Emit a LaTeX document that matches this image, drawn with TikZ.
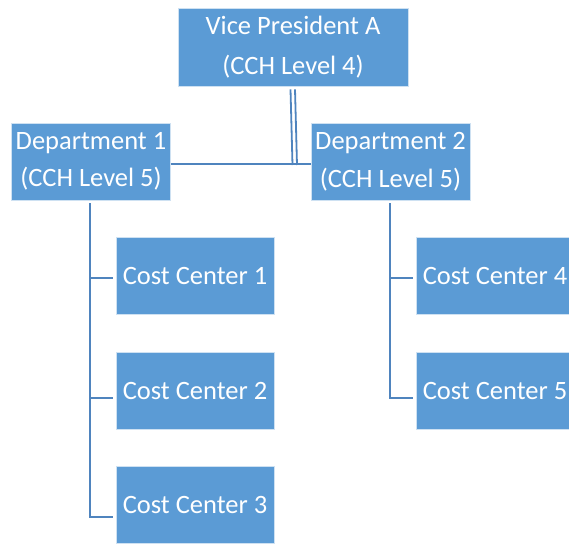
\documentclass[tikz,border=0pt]{standalone}
\usepackage{fontspec}
\setmainfont{Carlito}
\definecolor{boxblue}{HTML}{5B9BD5}
\definecolor{lineblue}{HTML}{4F84BE}
\begin{document}
\begin{tikzpicture}[x=1pt,y=-1pt,
  box/.style={fill=boxblue, draw=white!70!boxblue, line width=0.6pt, inner sep=0pt,
    text=white, font=\fontsize{26.5}{40}\selectfont, align=center},
  vpbox/.style={box, minimum width=230pt, minimum height=78pt},
  deptbox/.style={box, minimum width=159pt, minimum height=77pt, font=\fontsize{26.5}{37.5}\selectfont},
  ccbox/.style={box, minimum width=158pt, minimum height=77pt},
  conn/.style={draw=lineblue, line width=2.8pt},
  thin/.style={draw=lineblue, line width=1.8pt}]
\useasboundingbox (0,0) rectangle (569,543);
\clip (0,0) rectangle (569,543);
\node[vpbox] (vp) at (293,47) {Vice President A\\(CCH Level 4)};
\node[deptbox] (d1) at (91,161.5) {Department 1\\(CCH Level 5)};
\node[deptbox] (d2) at (390.5,161.5) {Department 2\\(CCH Level 5)};
\node[ccbox] (c1) at (195,275.5) {Cost Center 1};
\node[ccbox] (c2) at (195,390.5) {Cost Center 2};
\node[ccbox] (c3) at (195,504.5) {Cost Center 3};
\node[ccbox] (c4) at (495,275.5) {Cost Center 4};
\node[ccbox] (c5) at (495,390.5) {Cost Center 5};
% top connectors
\coordinate (j) at (295,164);
\draw[conn] ([yshift=-2.5pt]d1.east) -- ([yshift=-2.5pt]d2.west);
\draw[thin] ([xshift=-2.5pt,yshift=-3pt]vp.south) -- ([xshift=-2.5pt,yshift=-1pt]j);
\draw[thin] ([xshift=2pt,yshift=-3pt]vp.south) -- ([xshift=2pt,yshift=-1pt]j);
% department 1 branch
\coordinate (e1) at (90,278);
\coordinate (e2) at (90,398);
\coordinate (e3) at (90,517);
\draw[conn] ([yshift=-3pt]d1.south -| e1) -- (e3) -- ([xshift=-3pt]c3.west |- e3);
\draw[conn] (e1) -- ([xshift=-3pt]c1.west |- e1);
\draw[conn] (e2) -- ([xshift=-3pt]c2.west |- e2);
% department 2 branch
\coordinate (f1) at (390,278);
\coordinate (f2) at (390,398);
\draw[conn] ([yshift=-3pt]d2.south -| f1) -- (f2) -- ([xshift=-3pt]c5.west |- f2);
\draw[conn] (f1) -- ([xshift=-3pt]c4.west |- f1);
\end{tikzpicture}
\end{document}
